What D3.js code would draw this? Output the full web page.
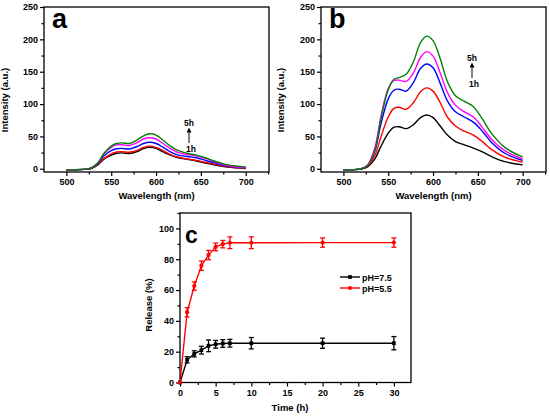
<!DOCTYPE html>
<html>
<head>
<meta charset="utf-8">
<script src="https://cdn.jsdelivr.net/npm/d3@7"></script>
<style>
  html, body { margin: 0; padding: 0; background: #fff; overflow: hidden; }
  svg { display: block; }
  text { font-family: "Liberation Sans", Arial, sans-serif; font-weight: bold; }
</style>
</head>
<body>
<div id="chart"></div>
<script>
// wavelengths (nm) sampled for the emission spectra
var wl = [500, 510, 520, 527, 535, 542, 550, 556, 562, 570, 578, 586, 593, 600, 608, 616, 625, 635, 645, 655, 665, 680, 700];

// panel a spectra, 1h -> 5h
var aBlack   = [-2, -1.5, -1, 0, 6, 15, 21, 24, 24.5, 23.5, 26, 31, 33, 31.5, 26, 21, 17, 14.5, 12, 9, 6, 2.5, 0.5];
var aRed     = [-2, -1.5, -1, 0.5, 7, 16, 23, 26, 26.5, 25.5, 28, 33, 35, 33, 28, 22, 18, 15, 13, 10, 7, 3, 1];
var aBlue    = [-2, -1.5, -1, 1, 8, 20, 28, 31, 31.5, 30.5, 34, 39, 41, 39, 33, 26, 21, 19, 17, 13, 9, 4, 1.5];
var aMagenta = [-2, -1.5, -0.5, 1, 9, 23, 33, 37, 37, 36, 40, 46, 48, 46, 39, 31, 25, 22, 20, 16, 11, 5, 2];
var aGreen   = [-2, -1.5, -0.5, 1, 9, 24, 35, 39, 40, 39, 44, 51, 54, 52, 44, 35, 28, 24, 21, 17, 12, 6, 3];

// panel b spectra, 1h -> 5h
var bBlack   = [-2, -1.5, -0.5, 3, 15, 35, 55, 64, 65, 62, 68, 79, 83, 79, 66, 52, 42, 37, 32, 26, 19, 11, 6];
var bRed     = [-2, -1.5, 0, 4, 20, 50, 80, 93, 95, 92, 102, 119, 125, 120, 102, 80, 66, 58, 52, 42, 30, 18, 10];
var bBlue    = [-2, -1.5, 0, 5, 27, 70, 108, 121, 123, 120, 133, 155, 162, 156, 132, 105, 88, 80, 72, 58, 41, 24, 13];
var bMagenta = [-2, -1.5, 0.5, 6, 32, 82, 124, 136, 137, 135, 148, 172, 181, 174, 148, 118, 98, 88, 80, 64, 46, 28, 15];
var bGreen   = [-2, -1.5, 0, 5, 28, 78, 122, 138, 141, 146, 165, 195, 205, 198, 170, 135, 113, 104, 96, 77, 55, 33, 18];

var curveColors = ["#000000", "#ff0000", "#0000ff", "#ff00ff", "#008000"];

// panel c release data
var time = [0, 1, 2, 3, 4, 5, 6, 7, 10, 20, 30];
var rel75 = [0, 14.7, 18.6, 21, 23.8, 24.8, 25.3, 25.5, 25.5, 25.5, 25.5];
var err75 = [0, 2, 2, 2.5, 3.8, 2.5, 2.5, 2.5, 3.7, 3.3, 4.3];
var rel55 = [0, 45.6, 62.6, 75.8, 82.7, 88, 89.8, 90.7, 90.7, 90.8, 90.8];
var err55 = [0, 3, 2.7, 3, 3, 2.5, 2.4, 3.8, 3.8, 3, 3];

var W = 550, H = 418;
var svg = d3.select("#chart").append("svg")
    .attr("width", W)
    .attr("height", H);

function spectrumPanel(left, label, series, yTextX, note) {
    var x = d3.scaleLinear().domain([475, 726]).range([left, left + 225]);
    var y = d3.scaleLinear().domain([-5, 250]).range([172, 7]);
    var g = svg.append("g");

    //frame
    g.append("rect")
        .attr("x", x.range()[0]).attr("y", 7)
        .attr("width", 225).attr("height", 165)
        .attr("fill", "none").attr("stroke", "#000").attr("stroke-width", 1.3);

    //axes
    g.append("g")
        .attr("transform", "translate(0,172)")
        .call(d3.axisBottom(x).tickValues([500, 550, 600, 650, 700]).tickSize(4).tickPadding(3));
    g.append("g")
        .attr("transform", "translate(0,172)")
        .call(d3.axisBottom(x).tickValues([525, 575, 625, 675, 725]).tickSize(2.5).tickFormat(""));
    g.append("g")
        .attr("transform", "translate(" + left + ",0)")
        .call(d3.axisLeft(y).tickValues([0, 50, 100, 150, 200, 250]).tickSize(4).tickPadding(2));
    g.append("g")
        .attr("transform", "translate(" + left + ",0)")
        .call(d3.axisLeft(y).tickValues([25, 75, 125, 175, 225]).tickSize(2.5).tickFormat(""));
    g.selectAll(".domain").remove();
    g.selectAll(".tick line").attr("stroke-width", 1.2);
    g.selectAll(".tick text").style("font-size", "9px").style("font-weight", "bold");

    //curves
    var line = d3.line()
        .x((d, i) => x(wl[i]))
        .y(d => y(d))
        .curve(d3.curveCatmullRom);
    g.selectAll(".spec")
        .data(series)
        .enter()
        .append("path")
        .attr("d", line)
        .attr("fill", "none")
        .attr("stroke", (d, i) => curveColors[i])
        .attr("stroke-width", 1.4);

    //labels
    g.append("text")
        .attr("x", left + 8).attr("y", 28)
        .style("font-size", "27px")
        .text(label);
    g.append("text")
        .attr("transform", "translate(" + yTextX + ",100) rotate(-90)")
        .attr("text-anchor", "middle")
        .style("font-size", "9.5px")
        .text("Intensity (a.u.)");
    g.append("text")
        .attr("x", left + 112.5).attr("y", 199)
        .attr("text-anchor", "middle")
        .style("font-size", "9.5px")
        .text("Wavelength (nm)");

    //time arrow
    g.append("text").attr("x", note[0]).attr("y", note[1])
        .attr("text-anchor", "middle").style("font-size", "8.5px").text("5h");
    g.append("text").attr("x", note[0] + 2).attr("y", note[1] + 26)
        .attr("text-anchor", "middle").style("font-size", "8.5px").text("1h");
    g.append("line")
        .attr("x1", note[0]).attr("x2", note[0])
        .attr("y1", note[1] + 17).attr("y2", note[1] + 4)
        .attr("stroke", "#000").attr("stroke-width", 1)
        .attr("marker-end", "url(#arrow)");
}

svg.append("defs").append("marker")
    .attr("id", "arrow")
    .attr("viewBox", "0 0 6 6")
    .attr("refX", 3).attr("refY", 3)
    .attr("markerWidth", 5).attr("markerHeight", 5)
    .attr("orient", "auto")
    .append("path")
    .attr("d", "M0,0 L6,3 L0,6 z")
    .attr("fill", "#000");

spectrumPanel(44, "a", [aBlack, aRed, aBlue, aMagenta, aGreen], 8, [189, 126]);
spectrumPanel(321, "b", [bBlack, bRed, bBlue, bMagenta, bGreen], 284, [472, 61]);

//Panel c: release profile
var xc = d3.scaleLinear().domain([0, 32.4]).range([180, 411]);
var yc = d3.scaleLinear().domain([0, 110]).range([382.5, 213]);
var gc = svg.append("g");

gc.append("rect")
    .attr("x", 180).attr("y", 213)
    .attr("width", 231).attr("height", 169.5)
    .attr("fill", "none").attr("stroke", "#000").attr("stroke-width", 1.3);

gc.append("g")
    .attr("transform", "translate(0,382.5)")
    .call(d3.axisBottom(xc).tickValues([0, 5, 10, 15, 20, 25, 30]).tickSize(4).tickPadding(3));
gc.append("g")
    .attr("transform", "translate(0,382.5)")
    .call(d3.axisBottom(xc).tickValues([2.5, 7.5, 12.5, 17.5, 22.5, 27.5]).tickSize(2.5).tickFormat(""));
gc.append("g")
    .attr("transform", "translate(180,0)")
    .call(d3.axisLeft(yc).tickValues([0, 20, 40, 60, 80, 100]).tickSize(4).tickPadding(2));
gc.append("g")
    .attr("transform", "translate(180,0)")
    .call(d3.axisLeft(yc).tickValues([10, 30, 50, 70, 90, 110]).tickSize(2.5).tickFormat(""));
gc.selectAll(".domain").remove();
gc.selectAll(".tick line").attr("stroke-width", 1.2);
gc.selectAll(".tick text").style("font-size", "9px").style("font-weight", "bold");

var releaseSeries = [
    {name: "pH=7.5", vals: rel75, errs: err75, color: "#000000", shape: "square"},
    {name: "pH=5.5", vals: rel55, errs: err55, color: "#ff0000", shape: "circle"}
];

var relLine = d3.line()
    .x((d, i) => xc(time[i]))
    .y(d => yc(d));

releaseSeries.forEach(function(s) {
    gc.append("path")
        .attr("d", relLine(s.vals))
        .attr("fill", "none")
        .attr("stroke", s.color)
        .attr("stroke-width", 1.4);

    var eb = gc.append("g").attr("stroke", s.color).attr("stroke-width", 1.3);
    s.vals.forEach(function(v, i) {
        if (s.errs[i] === 0) return;
        var cx = xc(time[i]);
        eb.append("line").attr("x1", cx).attr("x2", cx)
            .attr("y1", yc(v - s.errs[i])).attr("y2", yc(v + s.errs[i]));
        eb.append("line").attr("x1", cx - 2.5).attr("x2", cx + 2.5)
            .attr("y1", yc(v - s.errs[i])).attr("y2", yc(v - s.errs[i]));
        eb.append("line").attr("x1", cx - 2.5).attr("x2", cx + 2.5)
            .attr("y1", yc(v + s.errs[i])).attr("y2", yc(v + s.errs[i]));
    });

    var sym = d3.symbol().type(s.shape === "square" ? d3.symbolSquare : d3.symbolCircle).size(14);
    gc.selectAll(".m-" + s.shape)
        .data(s.vals)
        .enter()
        .append("path")
        .attr("d", sym)
        .attr("transform", (d, i) => "translate(" + xc(time[i]) + "," + yc(d) + ")")
        .attr("fill", s.color);
});

//legend
releaseSeries.forEach(function(s, i) {
    var ly = 277 + i * 11;
    gc.append("line")
        .attr("x1", 340).attr("x2", 360)
        .attr("y1", ly).attr("y2", ly)
        .attr("stroke", s.color).attr("stroke-width", 1.4);
    gc.append("path")
        .attr("d", d3.symbol().type(s.shape === "square" ? d3.symbolSquare : d3.symbolCircle).size(14))
        .attr("transform", "translate(350," + ly + ")")
        .attr("fill", s.color);
    gc.append("text")
        .attr("x", 362).attr("y", ly + 3.5)
        .style("font-size", "9px")
        .text(s.name);
});

gc.append("text")
    .attr("x", 185).attr("y", 243)
    .style("font-size", "23px")
    .text("c");
gc.append("text")
    .attr("transform", "translate(152,305) rotate(-90)")
    .attr("text-anchor", "middle")
    .style("font-size", "9.5px")
    .text("Release (%)");
gc.append("text")
    .attr("x", 290).attr("y", 411)
    .attr("text-anchor", "middle")
    .style("font-size", "9.5px")
    .text("Time (h)");
</script>
</body>
</html>
